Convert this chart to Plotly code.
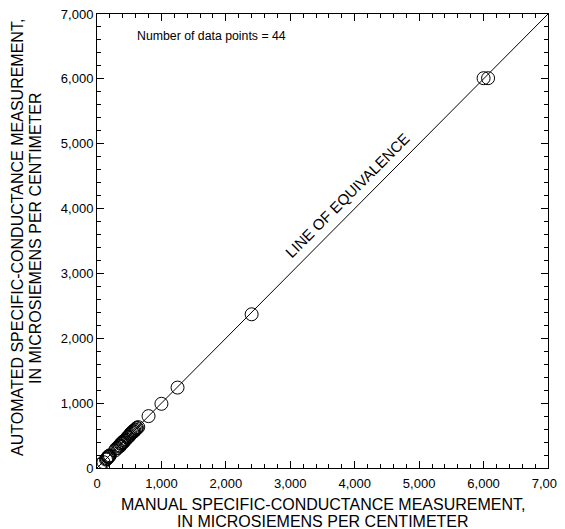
import plotly.graph_objects as go

manual = [6000, 6070, 2400, 1250, 1000, 800,
          50, 100, 140, 150, 160, 170, 175, 180, 190, 200,
          280, 300, 320, 340, 350, 360, 370, 380, 390, 400, 410, 420, 430, 450,
          470, 480, 500, 510, 520, 540, 550, 560, 570, 580, 600, 610, 620, 640]
automated = [6010, 6010, 2370, 1240, 990, 800,
             50, 90, 130, 140, 150, 165, 180, 170, 185, 195,
             270, 300, 310, 330, 350, 340, 370, 380, 390, 400, 395, 420, 425, 440,
             470, 480, 490, 510, 530, 540, 550, 570, 560, 580, 590, 610, 620, 630]
equiv_x = [0, 7000]
equiv_y = [0, 7000]
tick_vals = [0, 1000, 2000, 3000, 4000, 5000, 6000, 7000]
tick_text = ["0", "1,000", "2,000", "3,000", "4,000", "5,000", "6,000", "7,000"]

font = "Liberation Sans, Arial, sans-serif"

fig = go.Figure()
fig.add_trace(go.Scatter(x=equiv_x, y=equiv_y, mode="lines",
                         line=dict(color="black", width=1), showlegend=False,
                         hoverinfo="skip"))
fig.add_trace(go.Scatter(x=manual, y=automated, mode="markers",
                         marker=dict(symbol="circle-open", size=13,
                                     color="black", line=dict(width=1)),
                         showlegend=False))

axis_common = dict(
    range=[0, 7000], tickvals=tick_vals, ticktext=tick_text,
    ticks="inside", ticklen=7, tickwidth=1, tickcolor="black",
    showline=True, linecolor="black", linewidth=1, mirror="allticks",
    showgrid=False, zeroline=False, automargin=False,
    ticklabeloverflow="allow",
    tickfont=dict(family=font, size=13, color="black"),
    minor=dict(dtick=200, ticks="inside", ticklen=4, tickcolor="black", showgrid=False),
)

title_font = dict(family=font, size=16, color="black")

# page has an 8px body margin; figure sized so the plot area lands where the reference has it
fig.update_layout(
    width=557, height=521,
    margin=dict(l=89, r=17, t=6, b=61),
    plot_bgcolor="white", paper_bgcolor="white",
    font=dict(family=font, color="black"),
    xaxis=dict(**axis_common, ticklabelstandoff=3),
    yaxis=dict(**axis_common),
    annotations=[
        dict(x=0.5, y=0, xref="paper", yref="paper", yshift=-36,
             text="MANUAL SPECIFIC-CONDUCTANCE MEASUREMENT,",
             showarrow=False, xanchor="center", yanchor="middle", font=title_font),
        dict(x=0.5, y=0, xref="paper", yref="paper", yshift=-53,
             text="IN MICROSIEMENS PER CENTIMETER",
             showarrow=False, xanchor="center", yanchor="middle", font=title_font),
        dict(x=0, y=0.5066, xref="paper", yref="paper", xshift=-80,
             text="AUTOMATED SPECIFIC-CONDUCTANCE MEASUREMENT,", textangle=-90,
             showarrow=False, xanchor="center", yanchor="middle", font=title_font),
        dict(x=0, y=0.5066, xref="paper", yref="paper", xshift=-62,
             text="IN MICROSIEMENS PER CENTIMETER", textangle=-90,
             showarrow=False, xanchor="center", yanchor="middle", font=title_font),
        dict(x=590, y=6656, xref="x", yref="y", text="Number of data points = 44",
             showarrow=False, xanchor="left", yanchor="middle",
             font=dict(family=font, size=12.3)),
        dict(x=3880, y=4209, xref="x", yref="y", text="LINE OF EQUIVALENCE",
             showarrow=False, textangle=-45, xanchor="center", yanchor="middle",
             font=dict(family=font, size=15)),
    ],
)

fig.write_html("out.html")
